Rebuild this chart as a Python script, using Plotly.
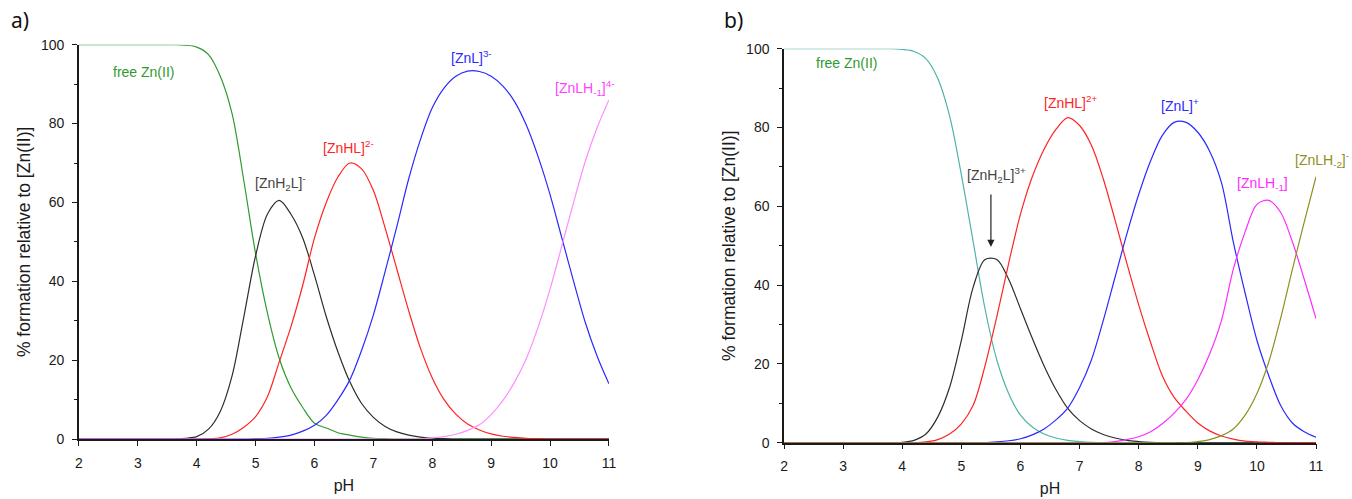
import plotly.graph_objects as go

# pH grid shared by every species curve (2.0 ... 11.0, step 0.2)
PH = [2.0, 2.2, 2.4, 2.6, 2.8, 3.0, 3.2, 3.4, 3.6, 3.8,
      4.0, 4.2, 4.4, 4.6, 4.8, 5.0, 5.2, 5.4, 5.6, 5.8,
      6.0, 6.2, 6.4, 6.6, 6.8, 7.0, 7.2, 7.4, 7.6, 7.8,
      8.0, 8.2, 8.4, 8.6, 8.8, 9.0, 9.2, 9.4, 9.6, 9.8,
      10.0, 10.2, 10.4, 10.6, 10.8, 11.0]

# ---- panel a) species distribution (% of total Zn(II)) ----
A_FREE = [100, 100, 100, 100, 100, 100, 100, 100, 100, 99.9,
          99.4, 97.5, 92.0, 82.5, 65.5, 47.0, 32.0, 20.5, 13.0, 8.0,
          4.0, 2.8, 1.6, 1.0, 0.5, 0.2, 0.1, 0, 0, 0,
          0, 0, 0, 0, 0, 0, 0, 0, 0, 0,
          0, 0, 0, 0, 0, 0]
A_ZNH2L = [0, 0, 0, 0, 0, 0, 0, 0, 0, 0.2,
           0.6, 2.5, 7.0, 16.0, 31.0, 46.5, 57.0, 60.5, 57.0, 51.0,
           41.5, 31.0, 22.0, 14.5, 9.0, 5.5, 3.2, 1.8, 1.0, 0.5,
           0.2, 0.1, 0, 0, 0, 0, 0, 0, 0, 0,
           0, 0, 0, 0, 0, 0]
A_ZNHL = [0, 0, 0, 0, 0, 0, 0, 0, 0, 0,
          0, 0.1, 0.3, 1.2, 3.0, 5.7, 10.7, 19.5, 28.5, 39.0,
          51.0, 60.0, 66.5, 70.0, 68.5, 63.0, 53.5, 43.0, 32.5, 23.0,
          15.5, 10.0, 6.3, 3.8, 2.3, 1.3, 0.7, 0.4, 0.2, 0.1,
          0, 0, 0, 0, 0, 0]
A_ZNL = [0, 0, 0, 0, 0, 0, 0, 0, 0, 0,
         0, 0, 0, 0, 0, 0.1, 0.2, 0.5, 1.0, 2.0,
         3.5, 6.0, 10.0, 15.0, 22.5, 31.5, 42.5, 54.0, 66.0, 76.0,
         84.0, 89.0, 92.0, 93.3, 93.2, 92.0, 89.5, 85.5, 79.5, 71.5,
         62.0, 51.0, 40.0, 29.5, 21.0, 14.0]
A_ZNLH1 = [0, 0, 0, 0, 0, 0, 0, 0, 0, 0,
           0, 0, 0, 0, 0, 0, 0, 0, 0, 0,
           0, 0, 0, 0, 0, 0, 0, 0, 0, 0,
           0.3, 0.6, 1.2, 2.2, 3.6, 6.2, 9.8, 14.5, 20.5, 28.5,
           38.0, 49.0, 60.0, 70.5, 79.0, 86.0]

# ---- panel b) species distribution (% of total Zn(II)) ----
B_FREE = [100, 100, 100, 100, 100, 100, 100, 100, 100, 100,
          99.8, 99.3, 97.5, 92.5, 83.0, 68.0, 51.0, 34.0, 21.0, 12.5,
          7.0, 4.0, 2.2, 1.2, 0.6, 0.3, 0.1, 0, 0, 0,
          0, 0, 0, 0, 0, 0, 0, 0, 0, 0,
          0, 0, 0, 0, 0, 0]
B_ZNH2L = [0, 0, 0, 0, 0, 0, 0, 0, 0, 0,
           0.1, 0.6, 2.2, 6.5, 14.0, 26.0, 39.5, 46.5, 46.5, 41.5,
           34.0, 26.5, 19.5, 13.5, 8.7, 5.6, 3.5, 2.1, 1.2, 0.6,
           0.3, 0.1, 0, 0, 0, 0, 0, 0, 0, 0,
           0, 0, 0, 0, 0, 0]
B_ZNHL = [0, 0, 0, 0, 0, 0, 0, 0, 0, 0,
          0, 0, 0.2, 0.8, 2.2, 4.8, 9.5, 19.5, 32.0, 45.5,
          58.0, 67.5, 74.5, 79.5, 82.5, 80.5, 75.5, 67.0, 56.5, 45.5,
          35.0, 25.5, 17.0, 11.5, 8.0, 5.0, 3.0, 1.7, 0.9, 0.4,
          0.2, 0.1, 0, 0, 0, 0]
B_ZNL = [0, 0, 0, 0, 0, 0, 0, 0, 0, 0,
         0, 0, 0, 0, 0, 0, 0, 0, 0.2, 0.5,
         1.0, 2.0, 3.5, 5.8, 8.8, 14.0, 21.0, 31.0, 42.0, 53.0,
         63.0, 71.5, 78.0, 81.3, 81.3, 78.8, 74.0, 66.0, 51.0, 38.0,
         26.0, 17.0, 9.5, 5.0, 2.8, 1.4]
B_ZNLH1 = [0, 0, 0, 0, 0, 0, 0, 0, 0, 0,
           0, 0, 0, 0, 0, 0, 0, 0, 0, 0,
           0, 0, 0, 0, 0, 0, 0, 0, 0.3, 0.8,
           1.5, 2.8, 4.8, 7.5, 11.0, 16.0, 22.5, 31.0, 44.0, 53.5,
           60.5, 61.5, 58.5, 51.0, 41.5, 31.5]
B_ZNLH2 = [0, 0, 0, 0, 0, 0, 0, 0, 0, 0,
           0, 0, 0, 0, 0, 0, 0, 0, 0, 0,
           0, 0, 0, 0, 0, 0, 0, 0, 0, 0,
           0, 0, 0, 0, 0, 0.3, 0.8, 1.8, 3.5, 7.0,
           12.5, 20.5, 31.5, 44.0, 56.0, 67.5]

X_TICKS = [2, 3, 4, 5, 6, 7, 8, 9, 10, 11]
Y_TICKS = [0, 20, 40, 60, 80, 100]

GREEN = "#2f9a2f"
TEAL = "#4fb3a8"
DARK = "#2d2d2d"
RED = "#ff2424"
BLUE = "#2a2aff"
PINK_A = "#ff8cff"
MAGENTA = "#ff2cff"
OLIVE = "#8f8f22"

FONT = "Liberation Sans, Arial, sans-serif"

fig = go.Figure()


def curve(y, color, xa, ya):
    fig.add_trace(go.Scatter(
        x=PH, y=y, mode="lines", xaxis=xa, yaxis=ya,
        line=dict(color=color, width=1.2, shape="spline", smoothing=0.9),
        cliponaxis=False, hoverinfo="skip", showlegend=False))


for ys, col in [(A_FREE, GREEN), (A_ZNH2L, DARK), (A_ZNHL, RED),
                (A_ZNL, BLUE), (A_ZNLH1, PINK_A)]:
    curve(ys, col, "x", "y")

for ys, col in [(B_FREE, TEAL), (B_ZNH2L, DARK), (B_ZNHL, RED),
                (B_ZNL, BLUE), (B_ZNLH1, MAGENTA), (B_ZNLH2, OLIVE)]:
    curve(ys, col, "x2", "y2")

xcommon = dict(
    range=[2, 11], tickmode="array", tickvals=X_TICKS,
    showgrid=False, zeroline=False, showline=True, linecolor="#1a1a1a",
    linewidth=1.5, ticks="outside", ticklen=5, tickwidth=1.2,
    tickcolor="#1a1a1a", ticklabelstandoff=5, layer="below traces",
    tickfont=dict(family=FONT, size=14, color="#1a1a1a"),
    title=dict(text="pH", font=dict(family=FONT, size=16, color="#1a1a1a"),
               standoff=10),
)
ycommon = dict(
    range=[0, 100], tickmode="array", tickvals=Y_TICKS,
    showgrid=False, zeroline=False, showline=True, linecolor="#1a1a1a",
    linewidth=1.5, ticks="outside", ticklen=5, tickwidth=1.2,
    tickcolor="#1a1a1a", ticklabelstandoff=5, layer="below traces",
    minor=dict(ticks="outside", ticklen=3, tickwidth=1, dtick=10,
               tickcolor="#1a1a1a", showgrid=False),
    tickfont=dict(family=FONT, size=14, color="#1a1a1a"),
    title=dict(text="% formation relative to [Zn(II)]",
               font=dict(family=FONT, size=17.5, color="#1a1a1a"),
               standoff=6),
)

fig.update_layout(
    width=1352, height=499,
    margin=dict(l=0, r=0, t=0, b=0, autoexpand=False),
    paper_bgcolor="white", plot_bgcolor="white",
    xaxis=dict(domain=[0.0584, 0.4504], anchor="y", **xcommon),
    yaxis=dict(domain=[0.1202, 0.9104], anchor="x", **ycommon),
    xaxis2=dict(domain=[0.5799, 0.9734], anchor="y2", **xcommon),
    yaxis2=dict(domain=[0.1128, 0.9024], anchor="x2", **ycommon),
)


def label(text, x, y, color, xr, yr, xanchor="center"):
    fig.add_annotation(text=text, x=x, y=y, xref=xr, yref=yr,
                       showarrow=False, xanchor=xanchor, yanchor="middle",
                       font=dict(family=FONT, size=14, color=color))


# species labels, panel a)
label("free Zn(II)", 3.09, 93.0, GREEN, "x", "y")
label("[ZnH<sub>2</sub>L]<sup>-</sup>", 5.43, 65.0, "#444444", "x", "y")
label("[ZnHL]<sup>2-</sup>", 6.58, 74.0, RED, "x", "y")
label("[ZnL]<sup>3-</sup>", 8.67, 97.0, BLUE, "x", "y")
label("[ZnLH<sub>-1</sub>]<sup>4-</sup>", 10.58, 89.0, "#ff44ff", "x", "y")

# species labels, panel b)
label("free Zn(II)", 3.05, 96.3, GREEN, "x2", "y2")
label("[ZnH<sub>2</sub>L]<sup>3+</sup>", 5.60, 67.9, "#444444", "x2", "y2")
label("[ZnHL]<sup>2+</sup>", 6.84, 86.5, RED, "x2", "y2")
label("[ZnL]<sup>+</sup>", 8.70, 85.7, BLUE, "x2", "y2")
label("[ZnLH<sub>-1</sub>]", 10.09, 65.6, MAGENTA, "x2", "y2")
label("[ZnLH<sub>-2</sub>]<sup>-</sup>", 10.61, 71.7, OLIVE, "x2", "y2",
      xanchor="left")

# arrow pointing at the [ZnH2L]3+ maximum
fig.add_annotation(x=5.5, y=49.7, ax=5.5, ay=63.4, xref="x2", yref="y2",
                   axref="x2", ayref="y2", text="", showarrow=True,
                   arrowhead=2, arrowsize=1.2, arrowwidth=1.2,
                   arrowcolor="#222222")

# panel letters
for txt, px in [("a)", 0.007), ("b)", 0.534)]:
    fig.add_annotation(text=txt, x=px, y=0.96, xref="paper", yref="paper",
                       showarrow=False, xanchor="left", yanchor="middle",
                       font=dict(family="Noto Sans, sans-serif", size=21,
                                 color="#111111"))

fig.write_html("out.html")
